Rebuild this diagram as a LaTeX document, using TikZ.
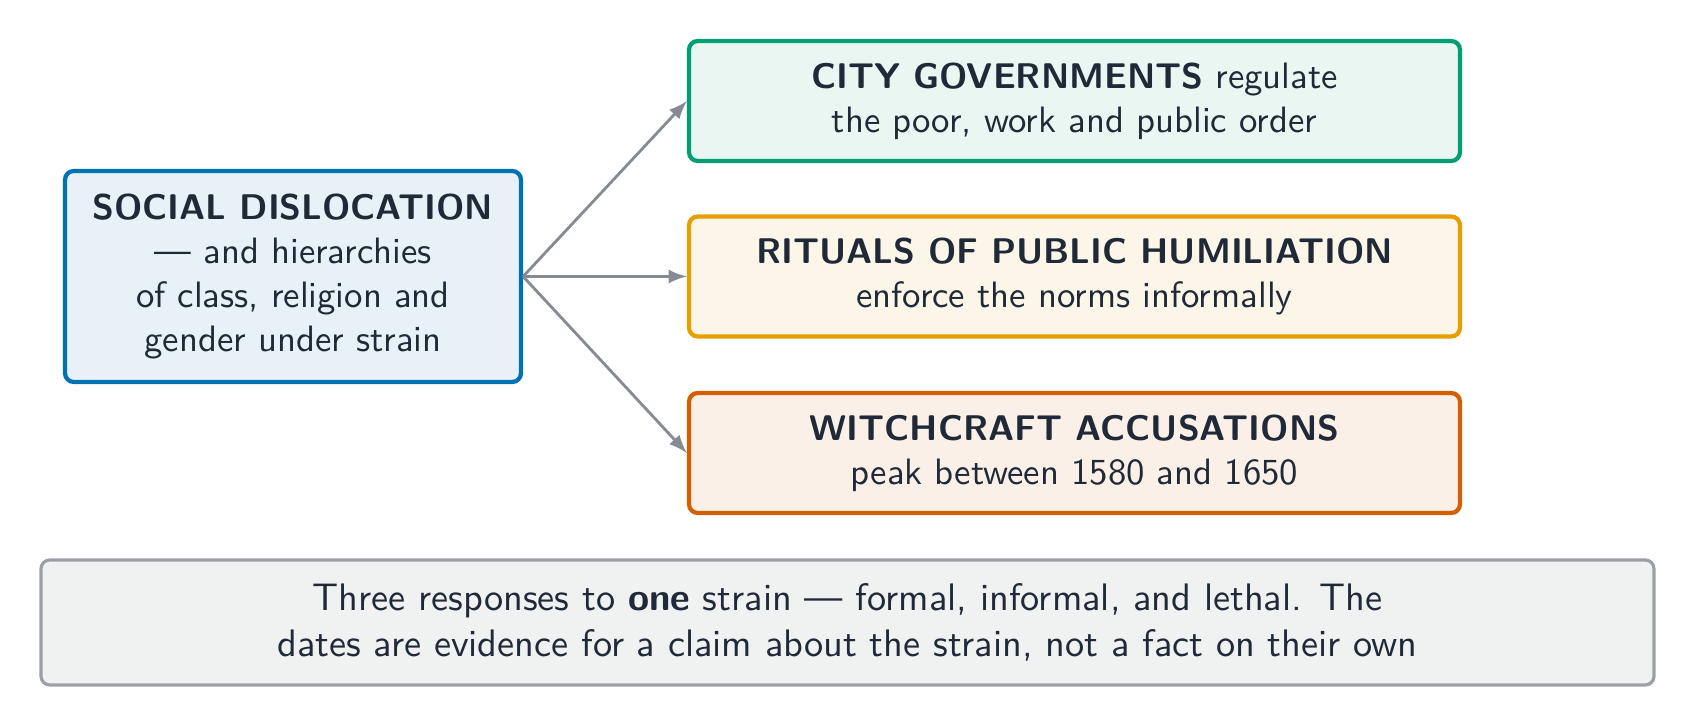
\documentclass[tikz,border=0pt]{standalone}
\usepackage{fontspec}
\usetikzlibrary{positioning}
\definecolor{inkc}{HTML}{1F2937}
\definecolor{arrowc}{HTML}{868A92}
\definecolor{bluec}{HTML}{0072B2}
\definecolor{bluef}{HTML}{E8F1F8}
\definecolor{greenc}{HTML}{009E73}
\definecolor{greenf}{HTML}{E9F6F1}
\definecolor{yellowc}{HTML}{E69F00}
\definecolor{yellowf}{HTML}{FCF6E9}
\definecolor{redc}{HTML}{D55E00}
\definecolor{redf}{HTML}{FAF0E8}
\definecolor{greyc}{HTML}{9CA0A6}
\definecolor{greyf}{HTML}{F0F1F1}
\newcommand{\boxtitle}[1]{{\fontsize{10.15}{12.6}\selectfont\bfseries #1}}
\begin{document}
\begin{tikzpicture}[font=\sffamily\fontsize{10.45}{12.6}\selectfont,text=inkc,
				main node/.style = {rectangle,rounded corners=2.5pt,draw,line width=1.2pt,align=center,inner sep=0pt},
				side node/.style = {main node,minimum width=7.71cm,minimum height=1.2cm},
				link/.style = {-latex,draw=arrowc,line width=0.8pt}]
				\useasboundingbox (0,0) rectangle (16.96,-7.28);
				
				\node[main node,draw=bluec,fill=bluef,minimum width=4.56cm,minimum height=2.11cm] (1) at (2.93,-2.765) {\boxtitle{SOCIAL DISLOCATION}\\--- and hierarchies\\of class, religion and\\gender under strain};
				\node[side node,draw=greenc,fill=greenf] (2) at (10.745,-1.01) {\boxtitle{CITY GOVERNMENTS} regulate\\the poor, work and public order};
				\node[side node,draw=yellowc,fill=yellowf] (3) at (10.745,-2.765) {\boxtitle{RITUALS OF PUBLIC HUMILIATION}\\enforce the norms informally};
				\node[side node,draw=redc,fill=redf] (4) at (10.745,-4.53) {\boxtitle{WITCHCRAFT ACCUSATIONS}\\peak between 1580 and 1650};
				\node[main node,draw=greyc,fill=greyf,line width=0.9pt,minimum width=16.13cm,minimum height=1.25cm,font=\sffamily\fontsize{10.9}{13.2}\selectfont] (5) at (8.475,-6.225) {Three responses to \textbf{one} strain --- formal, informal, and lethal. The\\dates are evidence for a claim about the strain, not a fact on their own};
				
				\draw[link] (1.east)--(2.west);
				\draw[link] (1.east)--(3.west);
				\draw[link] (1.east)--(4.west);
				\end{tikzpicture}
\end{document}
